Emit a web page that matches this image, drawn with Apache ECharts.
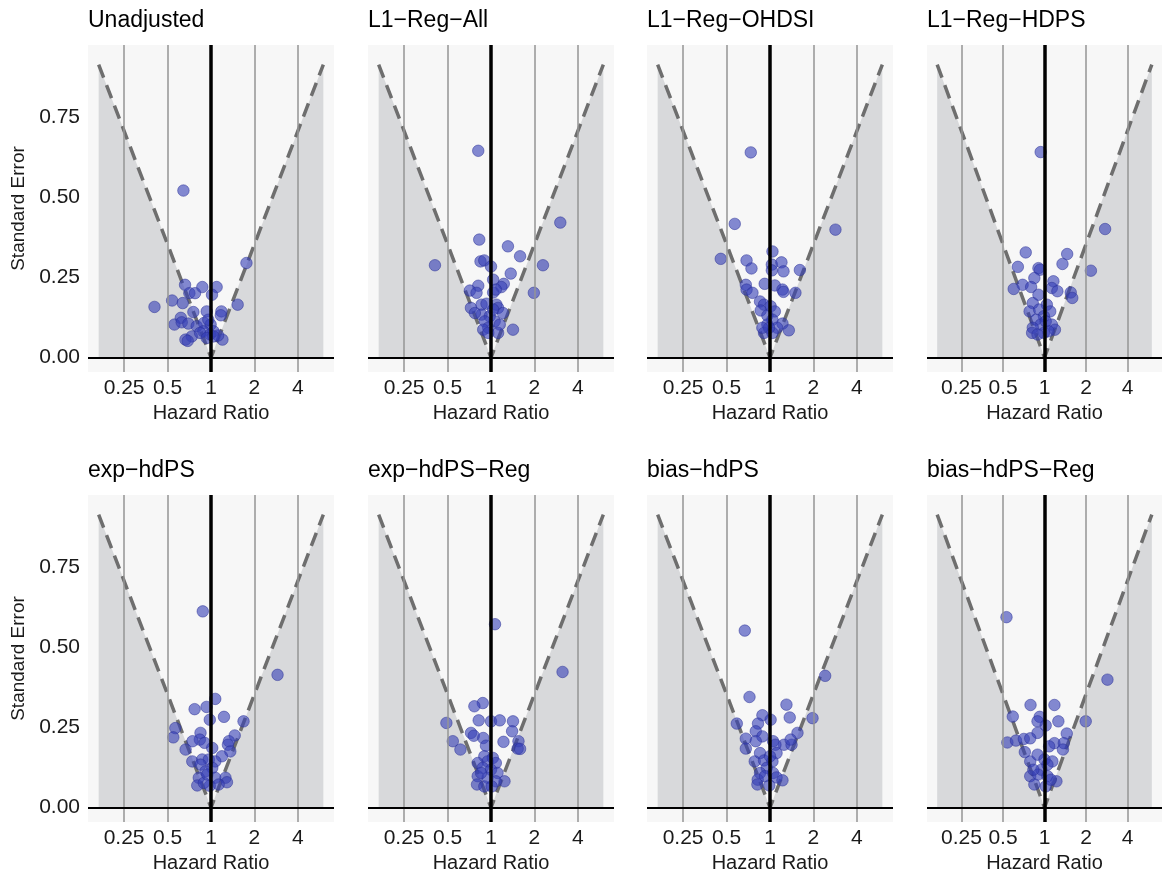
<!DOCTYPE html>
<html>
<head>
<meta charset="utf-8">
<script src="https://cdn.jsdelivr.net/npm/echarts@6/dist/echarts.min.js"></script>
<style>
  html, body { margin: 0; padding: 0; background: #ffffff; }
  #chart { width: 1162px; height: 876px; }
</style>
</head>
<body>
<div id="chart"></div>
<script>
// Axis ticks
const xTickValues = [0.25, 0.5, 1, 2, 4];
const xTickLabels = ['0.25', '0.5', '1', '2', '4'];
const yTickValues = [0, 0.25, 0.5, 0.75];
const yTickLabels = ['0.00', '0.25', '0.50', '0.75'];

// Funnel boundary (hazard ratio, standard error) for the 95% region
const funnelHr = [1 / 6, 1, 6];
const funnelSe = [0.914, 0, 0.914];

const panelTitles = ['Unadjusted', 'L1\u2212Reg\u2212All', 'L1\u2212Reg\u2212OHDSI', 'L1\u2212Reg\u2212HDPS',
                     'exp\u2212hdPS', 'exp\u2212hdPS\u2212Reg', 'bias\u2212hdPS', 'bias\u2212hdPS\u2212Reg'];

// Negative-control estimates per method: hazard ratio and its standard error
const hrUnadjusted = [0.644, 1.76, 0.406, 0.538, 0.661, 0.708, 0.775, 0.871, 1.094, 1.016, 0.637, 1.53, 1.18, 1.17, 0.934, 0.755, 0.618, 0.558, 0.627, 0.697, 0.796, 0.895, 0.994, 0.885, 0.984, 0.736, 0.665, 1.20, 1.12, 1.04, 0.84, 0.934, 0.69, 0.958, 1.04];
const seUnadjusted = [0.521, 0.295, 0.158, 0.178, 0.227, 0.201, 0.201, 0.220, 0.220, 0.196, 0.170, 0.165, 0.144, 0.132, 0.144, 0.142, 0.124, 0.103, 0.110, 0.106, 0.098, 0.108, 0.103, 0.082, 0.072, 0.066, 0.056, 0.056, 0.069, 0.082, 0.077, 0.061, 0.052, 0.118, 0.066];

const hrL1RegAll = [0.816, 3.02, 0.409, 0.829, 1.31, 1.59, 2.29, 1.98, 0.846, 0.898, 1.0, 1.37, 1.035, 1.226, 1.18, 0.816, 0.714, 0.794, 1.035, 1.08, 0.726, 0.86, 0.931, 1.09, 1.12, 1.21, 0.86, 0.98, 0.906, 1.06, 1.15, 0.957, 1.42, 0.883, 1.12, 0.957, 1.035, 0.773];
const seL1RegAll = [0.645, 0.421, 0.288, 0.368, 0.347, 0.316, 0.288, 0.202, 0.300, 0.303, 0.284, 0.262, 0.243, 0.230, 0.220, 0.224, 0.209, 0.202, 0.203, 0.212, 0.155, 0.165, 0.168, 0.165, 0.155, 0.139, 0.134, 0.129, 0.113, 0.113, 0.103, 0.093, 0.087, 0.087, 0.077, 0.077, 0.150, 0.139];

const hrL1RegOhdsi = [0.736, 0.57, 2.84, 0.456, 1.04, 0.688, 0.744, 1.03, 1.2, 1.03, 1.24, 1.61, 0.68, 0.919, 1.08, 1.22, 1.24, 1.5, 0.688, 0.756, 0.853, 0.909, 1.01, 0.862, 1.08, 0.959, 1.04, 1.22, 0.959, 1.12, 1.35, 0.909, 1.04, 0.984, 0.885];
const seL1RegOhdsi = [0.640, 0.417, 0.399, 0.308, 0.331, 0.303, 0.278, 0.290, 0.297, 0.272, 0.269, 0.273, 0.227, 0.230, 0.225, 0.212, 0.205, 0.202, 0.212, 0.202, 0.175, 0.165, 0.160, 0.147, 0.144, 0.131, 0.118, 0.106, 0.103, 0.093, 0.085, 0.077, 0.077, 0.093, 0.093];

const hrL1RegHdps = [0.938, 2.75, 0.731, 1.46, 1.35, 0.641, 0.904, 0.928, 2.17, 0.844, 1.16, 0.694, 0.598, 0.8, 1.13, 1.24, 1.55, 1.59, 0.904, 0.822, 1.04, 0.78, 0.914, 1.1, 0.99, 0.867, 0.938, 1.13, 0.822, 1.19, 0.813, 0.99, 1.07, 0.89, 1.02];
const seL1RegHdps = [0.641, 0.401, 0.328, 0.323, 0.292, 0.283, 0.279, 0.274, 0.271, 0.248, 0.238, 0.227, 0.214, 0.220, 0.217, 0.207, 0.203, 0.186, 0.196, 0.170, 0.165, 0.144, 0.150, 0.144, 0.129, 0.118, 0.103, 0.103, 0.093, 0.087, 0.077, 0.077, 0.082, 0.072, 0.113];

const hrExpHdps = [0.877, 2.89, 1.07, 0.931, 0.77, 1.23, 0.981, 1.68, 0.566, 0.548, 0.846, 0.837, 0.902, 0.745, 1.46, 1.33, 1.31, 1.36, 0.667, 1.02, 1.19, 0.742, 0.869, 0.966, 1.07, 0.846, 1.02, 0.916, 0.823, 1.07, 1.26, 1.29, 0.803, 0.981, 0.892, 1.13, 0.942];
const seExpHdps = [0.612, 0.414, 0.339, 0.314, 0.307, 0.283, 0.274, 0.269, 0.248, 0.219, 0.233, 0.212, 0.202, 0.207, 0.225, 0.207, 0.196, 0.175, 0.181, 0.186, 0.160, 0.144, 0.150, 0.150, 0.144, 0.134, 0.124, 0.113, 0.093, 0.093, 0.093, 0.079, 0.069, 0.068, 0.077, 0.072, 0.103];

const hrExpHdpsReg = [1.066, 3.13, 0.877, 0.767, 0.491, 0.822, 1.0, 1.15, 1.42, 1.40, 0.727, 0.76, 0.884, 0.544, 0.614, 1.22, 1.55, 1.53, 1.59, 0.923, 0.899, 1.03, 0.809, 0.948, 1.08, 0.877, 1.0, 1.11, 0.809, 0.948, 1.24, 1.08, 0.8, 0.899, 1.01, 0.853];
const seExpHdpsReg = [0.572, 0.423, 0.326, 0.316, 0.264, 0.272, 0.269, 0.272, 0.269, 0.238, 0.233, 0.224, 0.217, 0.207, 0.181, 0.205, 0.207, 0.184, 0.183, 0.193, 0.160, 0.155, 0.139, 0.144, 0.139, 0.124, 0.118, 0.108, 0.098, 0.093, 0.082, 0.082, 0.072, 0.066, 0.066, 0.108];

const hrBiasHdps = [0.669, 2.41, 0.721, 1.30, 1.37, 1.97, 0.886, 1.01, 0.589, 0.826, 0.797, 0.886, 1.55, 0.68, 0.797, 1.05, 1.25, 1.41, 1.39, 0.68, 1.09, 1.11, 0.853, 0.784, 0.909, 1.04, 0.949, 0.853, 1.05, 1.11, 1.22, 0.822, 0.818, 0.99, 0.923, 1.0];
const seBiasHdps = [0.552, 0.411, 0.345, 0.321, 0.281, 0.279, 0.288, 0.274, 0.262, 0.262, 0.238, 0.222, 0.233, 0.215, 0.207, 0.207, 0.196, 0.196, 0.212, 0.184, 0.196, 0.170, 0.170, 0.144, 0.147, 0.144, 0.124, 0.108, 0.108, 0.094, 0.085, 0.087, 0.072, 0.069, 0.098, 0.160];

const hrBiasHdpsReg = [0.53, 2.86, 0.792, 1.18, 0.589, 0.923, 0.89, 1.02, 1.26, 1.99, 1.45, 0.89, 0.538, 0.621, 0.708, 0.788, 0.72, 1.18, 1.38, 1.36, 1.08, 0.788, 0.89, 1.0, 1.14, 1.05, 0.949, 0.788, 0.899, 1.05, 1.22, 0.844, 1.02, 1.11, 0.83];
const seBiasHdpsReg = [0.594, 0.399, 0.320, 0.320, 0.284, 0.283, 0.269, 0.256, 0.269, 0.269, 0.231, 0.233, 0.203, 0.209, 0.214, 0.216, 0.173, 0.201, 0.201, 0.181, 0.191, 0.144, 0.165, 0.150, 0.144, 0.134, 0.118, 0.098, 0.103, 0.098, 0.082, 0.072, 0.066, 0.087, 0.118];

const panelHr = [hrUnadjusted, hrL1RegAll, hrL1RegOhdsi, hrL1RegHdps, hrExpHdps, hrExpHdpsReg, hrBiasHdps, hrBiasHdpsReg];
const panelSe = [seUnadjusted, seL1RegAll, seL1RegOhdsi, seL1RegHdps, seExpHdps, seExpHdpsReg, seBiasHdps, seBiasHdpsReg];

// ---- layout and styling ----
const FONT = '"Liberation Sans", Arial, Helvetica, sans-serif';
const gridLefts = [88, 368, 647, 927];
const gridTops = [45, 495];
const gridW = 246, gridH = 327;
const X_LIM = 2.83;            // log2 hazard-ratio half range
const Y_MIN = -0.045, Y_MAX = 0.975;

const log2 = Math.log2;
const funnelPts = funnelHr.map((h, i) => [log2(h), funnelSe[i]]);

const option = {
  backgroundColor: '#ffffff',
  animation: false,
  title: [], grid: [], xAxis: [], yAxis: [], series: []
};

panelTitles.forEach((name, p) => {
  const col = p % 4, row = Math.floor(p / 4);
  const left = gridLefts[col], top = gridTops[row];

  option.title.push({
    text: name, left: left, top: top - 36, padding: 0,
    textStyle: { fontFamily: FONT, fontSize: 23, fontWeight: 'normal', color: '#000' }
  });

  option.grid.push({
    left: left, top: top, width: gridW, height: gridH,
    show: true, backgroundColor: '#f7f7f7', borderWidth: 0
  });

  option.xAxis.push({
    gridIndex: p, type: 'value', min: -X_LIM, max: X_LIM,
    axisLine: { show: false }, axisTick: { show: false }, splitLine: { show: false },
    axisLabel: {
      customValues: xTickValues.map(log2),
      formatter: v => {
        const i = xTickValues.findIndex(t => Math.abs(log2(t) - v) < 1e-6);
        return i >= 0 ? xTickLabels[i] : '';
      },
      margin: 6, fontFamily: FONT, fontSize: 21, color: '#1a1a1a'
    },
    name: 'Hazard Ratio', nameLocation: 'middle', nameGap: 31,
    nameTextStyle: { fontFamily: FONT, fontSize: 20, color: '#1a1a1a' }
  });

  const yAx = {
    gridIndex: p, type: 'value', min: Y_MIN, max: Y_MAX,
    axisLine: { show: false }, axisTick: { show: false }, splitLine: { show: false },
    axisLabel: {
      show: col === 0,
      customValues: yTickValues,
      formatter: v => {
        const i = yTickValues.findIndex(t => Math.abs(t - v) < 1e-9);
        return i >= 0 ? yTickLabels[i] : '';
      },
      margin: 8, fontFamily: FONT, fontSize: 21, color: '#1a1a1a'
    }
  };
  if (col === 0) {
    yAx.name = 'Standard Error';
    yAx.nameLocation = 'middle';
    yAx.nameGap = 60;
    yAx.nameRotate = 90;
    yAx.nameTextStyle = { fontFamily: FONT, fontSize: 19, color: '#1a1a1a' };
  }
  option.yAxis.push(yAx);

  // shaded area outside the funnel
  option.series.push({
    type: 'line', xAxisIndex: p, yAxisIndex: p, z: 1, silent: true,
    data: funnelPts, showSymbol: false, symbol: 'none',
    lineStyle: { width: 0 },
    areaStyle: { color: '#d8d9db', opacity: 1 }
  });

  // reference lines at tick positions and at SE = 0
  const refLines = xTickValues.map(t => ({
    xAxis: log2(t),
    lineStyle: t === 1
      ? { color: '#000000', width: 3.5, type: 'solid' }
      : { color: '#959595', width: 1.5, type: 'solid' }
  }));
  refLines.push({ yAxis: 0, lineStyle: { color: '#000000', width: 2, type: 'solid' } });
  option.series.push({
    type: 'line', xAxisIndex: p, yAxisIndex: p, z: 2, silent: true,
    data: [], showSymbol: false,
    markLine: {
      silent: true, symbol: ['none', 'none'], label: { show: false },
      animation: false, data: refLines
    }
  });

  // dashed funnel boundary
  option.series.push({
    type: 'line', xAxisIndex: p, yAxisIndex: p, z: 3, silent: true,
    data: funnelPts, showSymbol: false, symbol: 'none',
    lineStyle: { color: '#6e6e6e', width: 3.5, type: [14, 8] }
  });

  // estimates
  option.series.push({
    type: 'scatter', xAxisIndex: p, yAxisIndex: p, z: 4,
    symbolSize: 11.5,
    data: panelHr[p].map((h, i) => [log2(h), panelSe[p][i]]),
    itemStyle: { color: 'rgba(55, 64, 182, 0.76)', borderColor: 'rgba(42, 48, 150, 0.8)', borderWidth: 0.8 }
  });
});

const chart = echarts.init(document.getElementById('chart'), null, { renderer: 'canvas' });
chart.setOption(option);
</script>
</body>
</html>
